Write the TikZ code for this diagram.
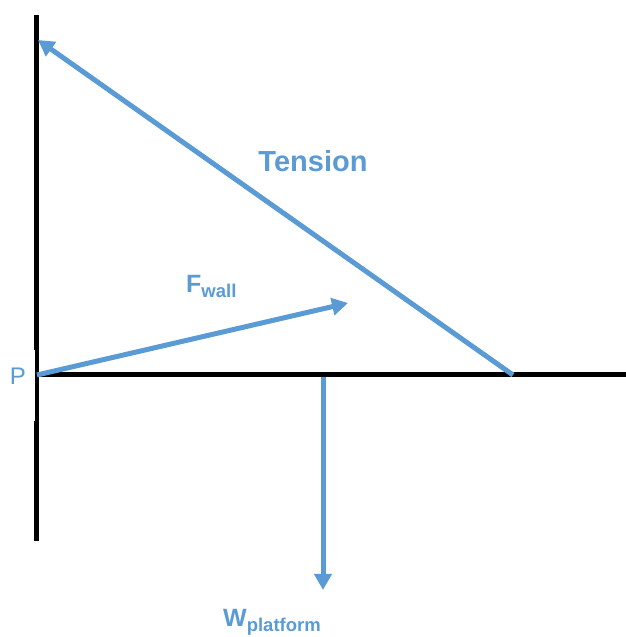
\documentclass[tikz,border=0pt]{standalone}
\usepackage{fontspec}
\setmainfont{Liberation Sans}
\usetikzlibrary{arrows.meta, positioning}
\definecolor{ink}{HTML}{000000}
\definecolor{forceblue}{HTML}{5B9BD5}
\tikzset{
  beam/.style={draw=ink, line width=5pt},
  force/.style={draw=forceblue, line width=5pt, -{Triangle[length=16pt, width=17pt]}},
  forcelabel/.style={font=\bfseries, text=forceblue, inner sep=0pt},
  pointlabel/.style={font=\fontsize{24}{28}\selectfont, text=forceblue, fill=white,
    minimum height=71pt, inner xsep=9pt, inner ysep=0pt, text height=17pt, text depth=18pt}
}
\newcommand{\bigsym}{\bfseries\fontsize{25}{30}\selectfont}
\newcommand{\subsym}[1]{\raisebox{-4.5pt}{\bfseries\fontsize{18.5}{20}\selectfont #1}}

\begin{document}
\begin{tikzpicture}[x=1pt,y=1pt]
\useasboundingbox (0,0) rectangle (626,637);

% wall and platform
\coordinate (wallTop) at (36,622);
\coordinate (wallBot) at (36,96);
\coordinate (pivot) at (37,262);
\coordinate (beamEnd) at (626,262);
\draw[beam] (wallTop) -- (wallBot);

\node[pointlabel, anchor=east] (labelP) at (35,251.5) {P};

\draw[beam] (36,262) -- (beamEnd);

% forces
\coordinate (ropeFix) at (513,262);
\coordinate (ropeTop) at (38,597);
\coordinate (fwallTip) at (348,334);
\coordinate (cg) at (323,260);
\coordinate (wTip) at (323,47);

\draw[force] (ropeFix) -- (ropeTop);
\draw[force] (pivot) -- (fwallTip);
\draw[force] (cg) -- (wTip);

\node[forcelabel, font=\bfseries\fontsize{29}{32}\selectfont, anchor=base] (labelTension) at (313,465) {Tension};
\node[forcelabel, anchor=base west] (labelFwall) at (186,344) {{\bigsym F}\subsym{wall}};
\node[forcelabel, anchor=base west] (labelW) at (223,10) {{\bigsym W}\subsym{platform}};

\end{tikzpicture}
\end{document}
